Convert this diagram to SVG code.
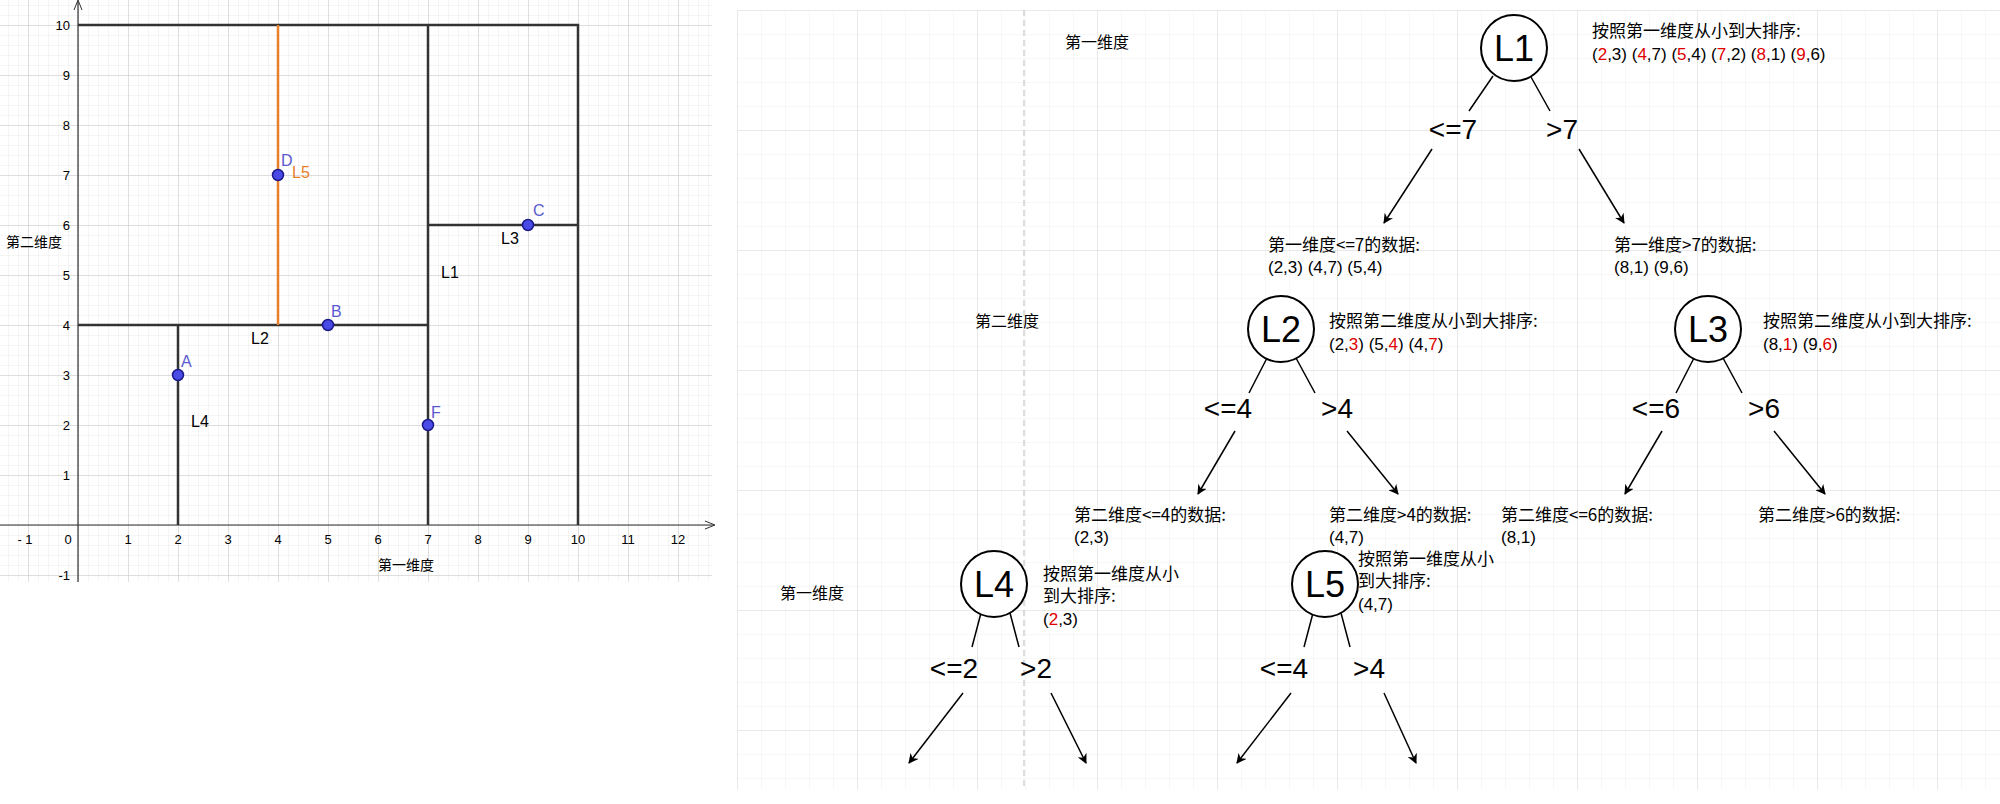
<svg xmlns="http://www.w3.org/2000/svg" width="2000" height="804" viewBox="0 0 2000 804">
<defs>
<pattern id="g1" width="10" height="10" patternUnits="userSpaceOnUse" x="78" y="25"><path d="M0 0H10M0 0V10" fill="none" stroke="#ececec" stroke-width="1"/></pattern>
<pattern id="g1m" width="50" height="50" patternUnits="userSpaceOnUse" x="78" y="25"><path d="M0 0H50M0 0V50" fill="none" stroke="#c8c8c8" stroke-width="1"/></pattern>
<pattern id="g2" width="24" height="24" patternUnits="userSpaceOnUse" x="737" y="10"><path d="M0 0H24M0 0V24" fill="none" stroke="#f0f0f0" stroke-width="1"/></pattern>
<pattern id="g2m" width="120" height="120" patternUnits="userSpaceOnUse" x="737" y="10"><path d="M0 0H120M0 0V120" fill="none" stroke="#dcdcdc" stroke-width="1"/></pattern>
<marker id="ar" viewBox="0 0 10 10" refX="9" refY="5" markerWidth="10" markerHeight="10" markerUnits="userSpaceOnUse" orient="auto"><path d="M0 0L10 5L0 10L3 5Z" fill="#000"/></marker>
<marker id="ax" viewBox="0 0 10 10" refX="9" refY="5" markerWidth="10" markerHeight="10" markerUnits="userSpaceOnUse" orient="auto"><path d="M0 1L10 5L0 9" fill="none" stroke="#333"/></marker>
</defs>
<style>
text{font-family:"Liberation Sans","Noto Sans CJK SC",sans-serif;fill:#000}
.cjk{font-family:"Noto Sans CJK SC","Liberation Sans",sans-serif}
.tick{font-size:13px;fill:#333}
.pt{fill:#4a4ae6;stroke:#1a1a8a;stroke-width:1.5}
.pl{font-size:16px;fill:#5a5ad0}
.kd{stroke:#333;stroke-width:2.5;fill:none}
.nd{fill:#fff;stroke:#000;stroke-width:2}
.nl{font-size:36px;text-anchor:middle}
.bl{font-size:28px;text-anchor:middle}
.an{font-size:17px}
.r{fill:#e00000}
.e{stroke:#000;stroke-width:1.5;fill:none}
</style>
<rect width="2000" height="804" fill="#fff"/>
<g id="plot">
<rect x="0" y="0" width="712" height="582" fill="url(#g1)"/>
<rect x="0" y="0" width="712" height="582" fill="url(#g1m)"/>
<line x1="0" y1="525" x2="714" y2="525" stroke="#333" stroke-width="1.2" marker-end="url(#ax)"/>
<line x1="78" y1="582" x2="78" y2="1" stroke="#333" stroke-width="1.2" marker-end="url(#ax)"/>
<g class="tick" text-anchor="middle">
<text x="25" y="544">- 1</text><text x="68" y="544">0</text><text x="128" y="544">1</text><text x="178" y="544">2</text><text x="228" y="544">3</text><text x="278" y="544">4</text><text x="328" y="544">5</text><text x="378" y="544">6</text><text x="428" y="544">7</text><text x="478" y="544">8</text><text x="528" y="544">9</text><text x="578" y="544">10</text><text x="628" y="544">11</text><text x="678" y="544">12</text>
</g>
<g class="tick" text-anchor="end">
<text x="70" y="30">10</text><text x="70" y="80">9</text><text x="70" y="130">8</text><text x="70" y="180">7</text><text x="70" y="230">6</text><text x="70" y="280">5</text><text x="70" y="330">4</text><text x="70" y="380">3</text><text x="70" y="430">2</text><text x="70" y="480">1</text><text x="70" y="580">-1</text>
</g>
<path class="kd" d="M78 25H578V525M428 25V525M428 225H578M78 325H428M178 325V525"/>
<line x1="278" y1="25" x2="278" y2="325" stroke="#e8802a" stroke-width="2.5"/>
<circle class="pt" cx="178" cy="375" r="5.5"/><circle class="pt" cx="328" cy="325" r="5.5"/><circle class="pt" cx="528" cy="225" r="5.5"/><circle class="pt" cx="278" cy="175" r="5.5"/><circle class="pt" cx="428" cy="425" r="5.5"/>
<text class="pl" x="181" y="367">A</text><text class="pl" x="331" y="317">B</text><text class="pl" x="533" y="216">C</text><text class="pl" x="281" y="166">D</text><text class="pl" x="431" y="418">F</text>
<text x="292" y="178" font-size="16" style="fill:#e8802a">L5</text>
<text x="441" y="278" font-size="16">L1</text><text x="251" y="344" font-size="16">L2</text><text x="501" y="244" font-size="16">L3</text><text x="191" y="427" font-size="16">L4</text>
<text class="cjk" x="6" y="247" font-size="14" fill="#333">第二维度</text>
<text class="cjk" x="378" y="570" font-size="14" fill="#333">第一维度</text>
</g>
<g id="panel">
<rect x="737" y="10" width="1263" height="780" fill="url(#g2)"/>
<rect x="737" y="10" width="1263" height="780" fill="url(#g2m)"/>
<line x1="1024" y1="10" x2="1024" y2="790" stroke="#bbb" stroke-dasharray="6 4"/>
<text class="cjk" x="1065" y="48" font-size="16">第一维度</text>
<text class="cjk" x="975" y="327" font-size="16">第二维度</text>
<text class="cjk" x="780" y="599" font-size="16">第一维度</text>
</g>
<g id="connectors">
<path class="e" d="M1493 76L1469 111M1531 77L1550 111M1267 358L1249 393M1296 358L1315 393M1694 358L1676 393M1723 358L1742 393M981 613L972 647M1010 613L1019 647M1313 613L1304 647M1341 613L1350 647"/>
<g class="e" marker-end="url(#ar)">
<path d="M1432 149L1384 223"/><path d="M1579 149L1624 223"/>
<path d="M1235 431L1198 494"/><path d="M1347 431L1398 494"/>
<path d="M1662 431L1625 494"/><path d="M1774 431L1825 494"/>
<path d="M963 693L909 763"/><path d="M1051 693L1086 763"/>
<path d="M1291 693L1237 763"/><path d="M1384 693L1416 763"/>
</g>
</g>
<g id="L1"><circle class="nd" cx="1514" cy="48" r="33"/><text class="nl" x="1514" y="61">L1</text>
<text class="an cjk" x="1592" y="37">按照第一维度从小到大排序:</text>
<text class="an" x="1592" y="60">(<tspan class="r">2</tspan>,3) (<tspan class="r">4</tspan>,7) (<tspan class="r">5</tspan>,4) (<tspan class="r">7</tspan>,2) (<tspan class="r">8</tspan>,1) (<tspan class="r">9</tspan>,6)</text></g>
<g id="lab1"><text class="bl" x="1453" y="139">&lt;=7</text><text class="bl" x="1562" y="139">&gt;7</text></g>
<g id="d1"><text class="an cjk" x="1268" y="251">第一维度&lt;=7的数据:</text><text class="an" x="1268" y="273">(2,3) (4,7) (5,4)</text></g>
<g id="d2"><text class="an cjk" x="1614" y="251">第一维度&gt;7的数据:</text><text class="an" x="1614" y="273">(8,1) (9,6)</text></g>
<g id="L2"><circle class="nd" cx="1281" cy="329" r="33"/><text class="nl" x="1281" y="342">L2</text>
<text class="an cjk" x="1329" y="327">按照第二维度从小到大排序:</text>
<text class="an" x="1329" y="350">(2,<tspan class="r">3</tspan>) (5,<tspan class="r">4</tspan>) (4,<tspan class="r">7</tspan>)</text></g>
<g id="L3"><circle class="nd" cx="1708" cy="329" r="33"/><text class="nl" x="1708" y="342">L3</text>
<text class="an cjk" x="1763" y="327">按照第二维度从小到大排序:</text>
<text class="an" x="1763" y="350">(8,<tspan class="r">1</tspan>) (9,<tspan class="r">6</tspan>)</text></g>
<g id="lab2"><text class="bl" x="1228" y="418">&lt;=4</text><text class="bl" x="1337" y="418">&gt;4</text><text class="bl" x="1656" y="418">&lt;=6</text><text class="bl" x="1764" y="418">&gt;6</text></g>
<g id="d3"><text class="an cjk" x="1074" y="521">第二维度&lt;=4的数据:</text><text class="an" x="1074" y="543">(2,3)</text></g>
<g id="d4"><text class="an cjk" x="1329" y="521">第二维度&gt;4的数据:</text><text class="an" x="1329" y="543">(4,7)</text></g>
<g id="d5"><text class="an cjk" x="1501" y="521">第二维度&lt;=6的数据:</text><text class="an" x="1501" y="543">(8,1)</text></g>
<g id="d6"><text class="an cjk" x="1758" y="521">第二维度&gt;6的数据:</text></g>
<g id="L4"><circle class="nd" cx="994" cy="584" r="33"/><text class="nl" x="994" y="597">L4</text>
<text class="an cjk" x="1043" y="580">按照第一维度从小</text><text class="an cjk" x="1043" y="602">到大排序:</text>
<text class="an" x="1043" y="625">(<tspan class="r">2</tspan>,3)</text></g>
<g id="L5"><circle class="nd" cx="1325" cy="584" r="33"/><text class="nl" x="1325" y="597">L5</text>
<text class="an cjk" x="1358" y="565">按照第一维度从小</text><text class="an cjk" x="1358" y="587">到大排序:</text>
<text class="an" x="1358" y="610">(4,7)</text></g>
<g id="lab3"><text class="bl" x="954" y="678">&lt;=2</text><text class="bl" x="1036" y="678">&gt;2</text><text class="bl" x="1284" y="678">&lt;=4</text><text class="bl" x="1369" y="678">&gt;4</text></g>
</svg>
